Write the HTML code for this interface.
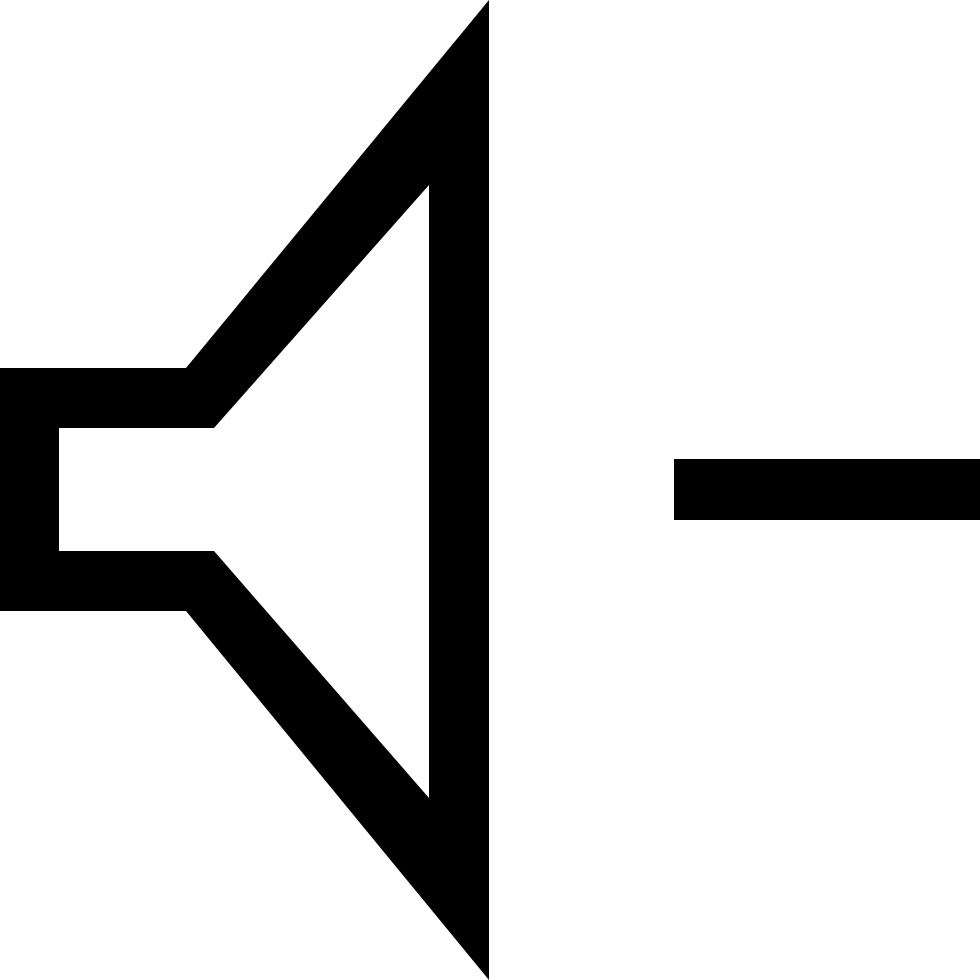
<!DOCTYPE html>
<html><head><meta charset="utf-8"><style>html,body{margin:0;padding:0;background:#fff}svg{display:block}</style></head>
<body>
<svg width="980" height="980" viewBox="0 0 980 980" xmlns="http://www.w3.org/2000/svg">
<path fill="#000" fill-rule="evenodd" d="M0,368 L186,368 L489,0 L489,980 L186,611 L0,611 Z M59,428 L214,428 L429,185 L429,798 L214,551 L59,551 Z"/>
<rect x="674" y="459" width="306" height="61" fill="#000"/>
</svg>
</body></html>
